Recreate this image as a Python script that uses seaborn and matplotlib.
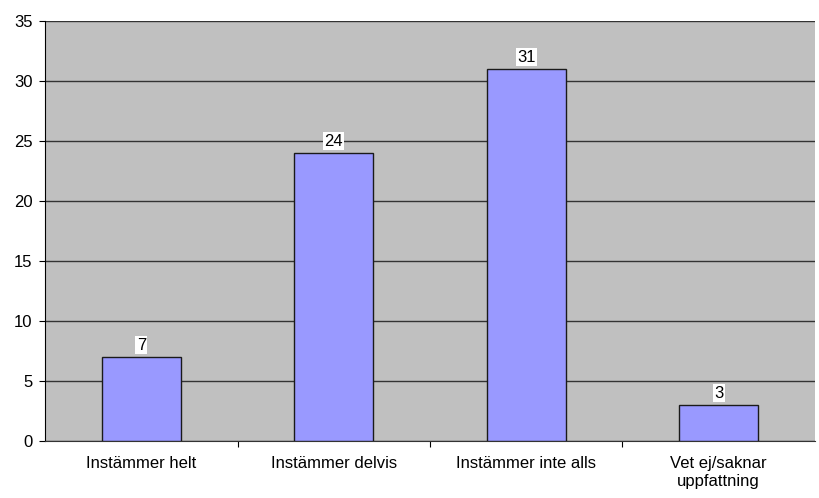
import matplotlib
matplotlib.use("Agg")
import matplotlib.pyplot as plt
import seaborn as sns
import numpy as np
from matplotlib.ticker import FixedLocator

categories = ["Instämmer helt", "Instämmer delvis", "Instämmer inte alls", "Vet ej/saknar\nuppfattning"]
values = [7, 24, 31, 3]

sns.set_style("white")
plt.rcParams["font.family"] = ["Liberation Sans", "DejaVu Sans"]
plt.rcParams["text.color"] = "black"
plt.rcParams["xtick.color"] = "black"
plt.rcParams["ytick.color"] = "black"

fig = plt.figure(figsize=(8.19, 4.98), dpi=100)
ax = fig.add_axes([0.055, 0.1145, 0.94, 0.8435])
ax.set_facecolor("#C0C0C0")

sns.barplot(x=categories, y=values, color="#9999FF", width=0.41,
            edgecolor="#1a1a1a", linewidth=1, saturation=1, ax=ax, zorder=3)

ax.set_ylim(0, 35)
ax.set_xlim(-0.5, 3.5)
ax.set_yticks(range(0, 36, 5))
ax.yaxis.grid(True, color="#333333", linewidth=1)
ax.set_axisbelow(True)

for i, v in enumerate(values):
    ax.annotate(str(v), (i, v), xytext=(0, 3), textcoords="offset points",
                ha="center", va="bottom", fontsize=12, color="black", zorder=4,
                bbox=dict(boxstyle="square,pad=0.08", fc="white", ec="none"))

ax.tick_params(axis="x", which="major", length=0, pad=11, labelsize=12, labelcolor="black")
ax.xaxis.set_minor_locator(FixedLocator(np.arange(0.5, 3, 1)))
ax.tick_params(axis="x", which="minor", bottom=True, length=4, width=0.8, color="black", direction="out")
ax.tick_params(axis="y", which="major", left=True, length=4, width=0.8, color="black",
               direction="out", labelsize=12, pad=5, labelcolor="black")

for s in ["top", "right"]:
    ax.spines[s].set_visible(False)
ax.spines["left"].set_color("black")
ax.spines["bottom"].set_color("#333333")
ax.set_xlabel("")
ax.set_ylabel("")

fig.savefig("out.png", dpi=100)
